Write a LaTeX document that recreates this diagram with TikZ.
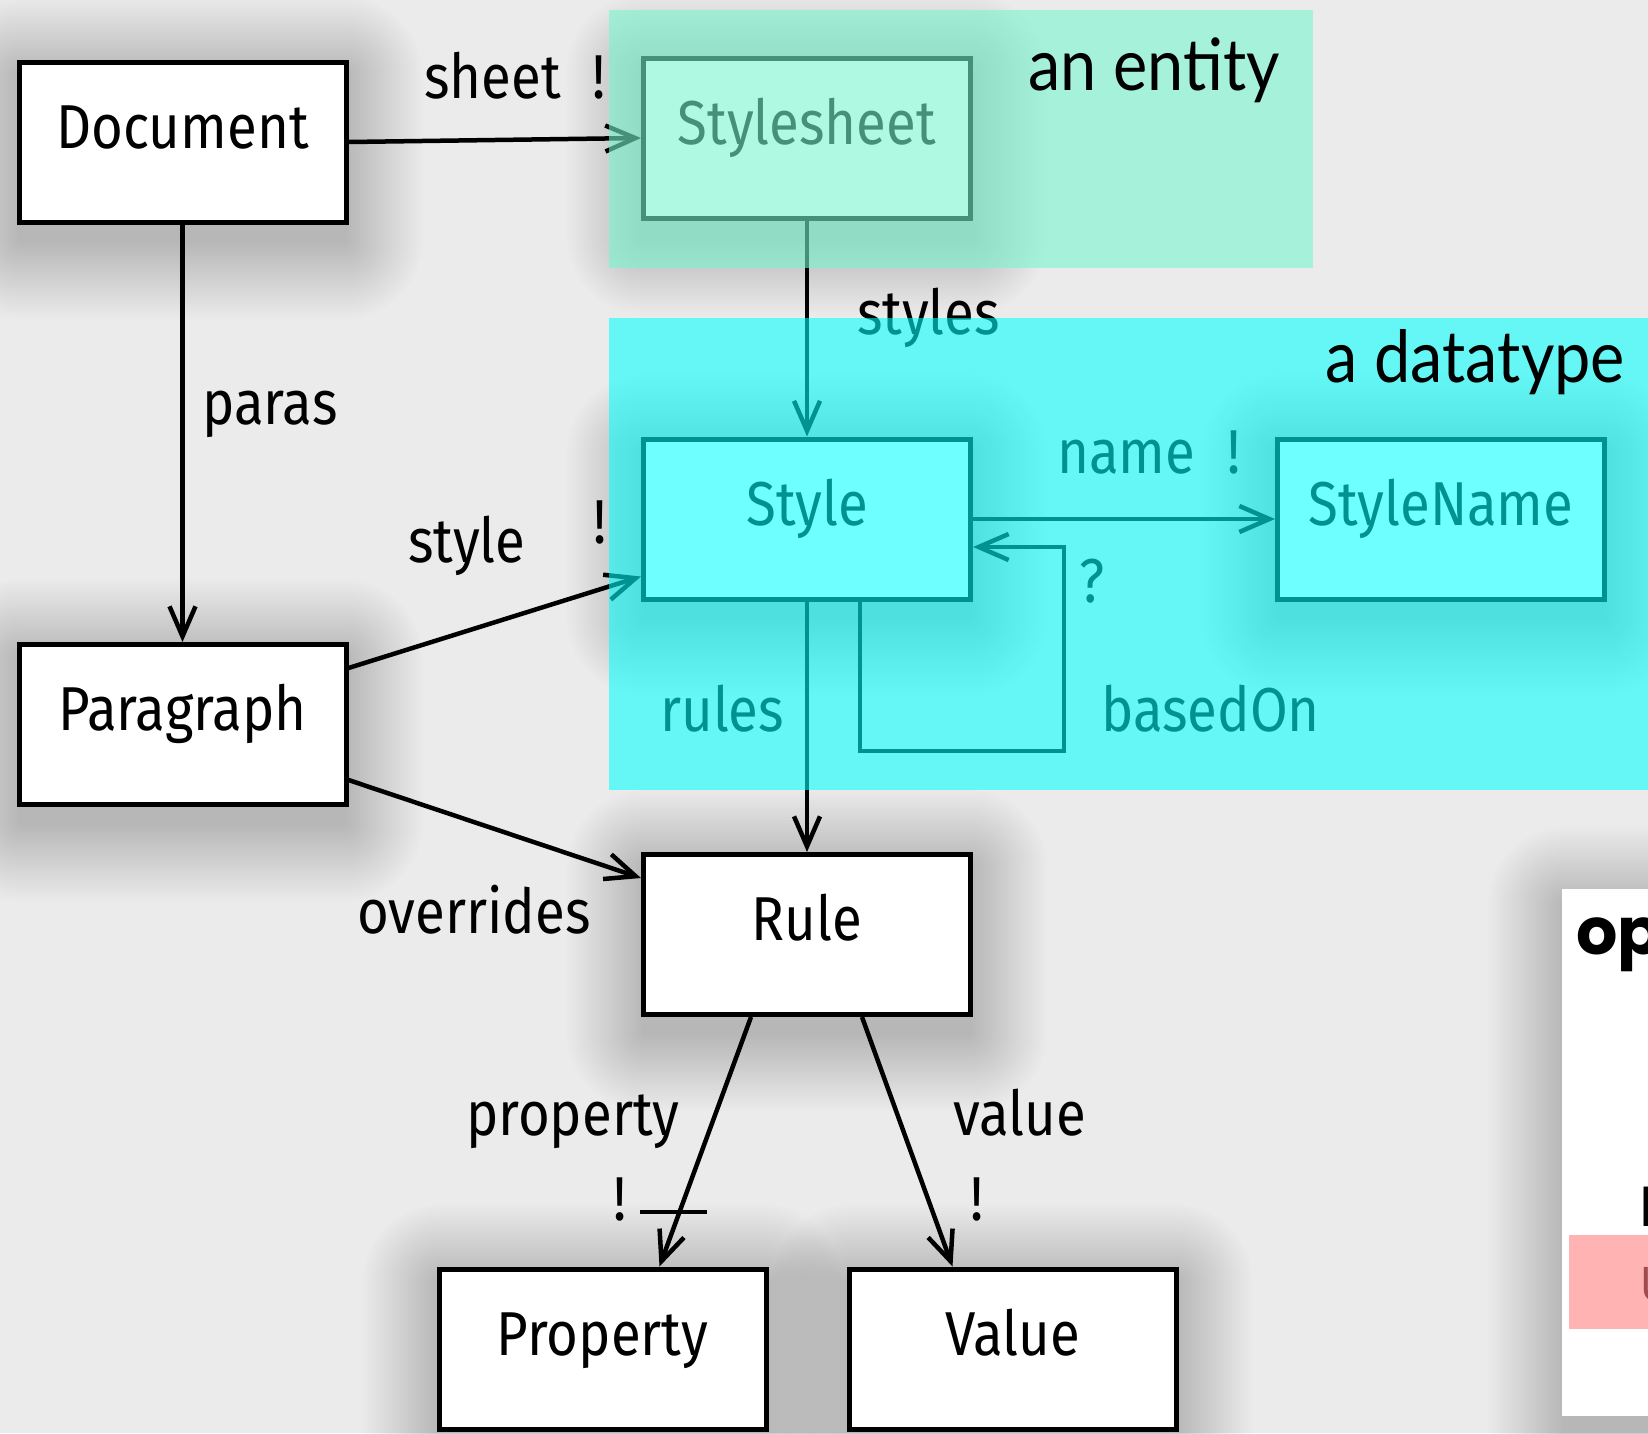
\documentclass[tikz,border=0pt]{standalone}
\usepackage{fontspec}
\setmainfont{Fira Sans}[FakeStretch=0.88]
\newfontfamily\regionfont{Lato}[FakeStretch=0.9]
\newfontfamily\panelfont{Poppins}
\usetikzlibrary{arrows.meta,calc}
\pgfdeclarelayer{bglayer}
\pgfdeclarelayer{shadowlayer}
\pgfsetlayers{bglayer,shadowlayer,main}
\definecolor{bg}{HTML}{EBEBEB}
\definecolor{pinkbar}{HTML}{FFB3B3}
\definecolor{darkred}{HTML}{A04C4C}
\definecolor{entitycol}{RGB}{119,246,207}
\definecolor{datacol}{RGB}{0,255,255}
\newcommand{\labfont}{\fontsize{62pt}{70pt}\selectfont}
\newcommand{\softshadow}[1]{%
  \begin{pgfonlayer}{shadowlayer}
  \foreach \i [evaluate=\i as \r using 3*\i] in {1,...,26}{
    \fill[black, fill opacity=0.006, rounded corners=\r pt]
      ($(#1.south west)+(-3*\i+4,3*\i+16)$) rectangle ($(#1.north east)+(3*\i-4,-3*\i+16)$);
  }
  \end{pgfonlayer}}
\tikzset{
  umlbox/.style={draw=black, line width=5pt, fill=white, minimum width=327pt, minimum height=160pt,
    inner sep=0pt, text height=40pt, text depth=28pt, font=\labfont},
  conn/.style={draw=black, line width=4.5pt, -{Straight Barb[length=30pt,width=26pt]}},
  plainline/.style={draw=black, line width=4.5pt},
  lbl/.style={font=\labfont, inner sep=0pt},
  region/.style={fill opacity=#1, draw=none},
}
\begin{document}
\begin{tikzpicture}[x=1pt,y=-1pt]
\useasboundingbox (0,0) rectangle (1648,1433);
\begin{pgfonlayer}{bglayer}
\fill[bg] (0,0) rectangle (1648,1433);
\end{pgfonlayer}

% right-hand panel (cut off)
\node[fill=white, inner sep=0pt, minimum width=138pt, minimum height=527pt] (panel) at (1631,1152.5) {};
\softshadow{panel}
\coordinate (pinkA) at (1569,1235);
\coordinate (pinkB) at (1700,1329);
\fill[pinkbar] (pinkA) rectangle (pinkB);
\node[anchor=base west, inner sep=0pt, font=\panelfont\bfseries\fontsize{65pt}{72pt}\selectfont] (ophead) at (1576,954) {op};
\node[anchor=base west, inner sep=0pt, font=\panelfont\fontsize{72pt}{80pt}\selectfont] (panelln) at (1638,1226) {n};
\node[anchor=base west, inner sep=0pt, text=darkred, font=\fontsize{48pt}{56pt}\selectfont] (panelu) at (1640,1300) {U};

% boxes
\node[umlbox] (doc)   at (182.5,142)  {Document};
\node[umlbox] (ss)    at (807,138)    {Stylesheet};
\node[umlbox] (style) at (807,519)    {Style};
\node[umlbox] (sn)    at (1441,519)   {StyleName};
\node[umlbox] (para)  at (182.5,724.5){Paragraph};
\node[umlbox] (rule)  at (807,934.5)  {Rule};
\node[umlbox] (prop)  at (602.5,1349) {Property};
\node[umlbox] (val)   at (1012.5,1349){Value};
\foreach \b in {doc,ss,style,sn,para,rule,prop,val}{\softshadow{\b}}

% connectors
\draw[conn] (doc.east) -- (ss.west);
\draw[conn] (doc.south) -- (para.north);
\draw[conn] (ss.south) -- (style.north);
\draw[conn] ($(para.north east)+(0,26)$) -- ($(style.south west)+(0,-25)$);
\draw[conn] ($(para.south east)+(0,-27)$) -- ($(rule.north west)+(0,26)$);
\draw[conn] (style.east) -- (sn.west);
\coordinate (loopc) at (1064,751);
\draw[conn] ($(style.south west)+(219,0)$) |- (loopc) |- ($(style.east)+(0,28)$);
\draw[conn] (style.south) -- (rule.north);
\draw[conn] ($(rule.south west)+(110,0)$) -- ($(prop.north west)+(223,0)$);
\draw[conn] ($(rule.south west)+(221,0)$) -- ($(val.north west)+(106,0)$);
\coordinate (tk1) at (640,1212);
\coordinate (tk2) at (707,1212);
\draw[plainline] (tk1) -- (tk2);

% labels
\node[lbl, anchor=base west] (lsheet) at (424,98) {sheet};
\node[lbl, anchor=base] (lsheetx) at (599,98) {!};
\node[lbl, anchor=base west] (lparas) at (202,424) {paras};
\node[lbl, anchor=base west] (lstyles) at (857,334) {styles};
\node[lbl, anchor=base west] (lstyle) at (408,562) {style};
\node[lbl, anchor=base] (lstylex) at (600,543) {!};
\node[lbl, anchor=base west] (loverrides) at (357,933) {overrides};
\node[lbl, anchor=base west] (lname) at (1057,473) {name};
\node[lbl, anchor=base] (lnamex) at (1234,473) {!};
\node[lbl, anchor=base] (lq) at (1092,602) {?};
\node[lbl, anchor=base west] (lrules) at (660,731) {rules};
\node[lbl, anchor=base west] (lbased) at (1101,731) {basedOn};
\node[lbl, anchor=base west] (lprop) at (466,1135) {property};
\node[lbl, anchor=base] (lpropx) at (620,1220) {!};
\node[lbl, anchor=base west] (lvalue) at (953,1135) {value};
\node[lbl, anchor=base] (lvaluex) at (977,1220) {!};

% translucent regions
\fill[region=0.59, entitycol] (609,10) rectangle (1313,268);
\fill[region=0.57, datacol] (609,318) rectangle (1700,790);
\node[anchor=base east, inner sep=0pt, font=\regionfont\fontsize{72pt}{80pt}\selectfont] (entity) at (1280,90) {an entity};
\node[anchor=base east, inner sep=0pt, font=\regionfont\fontsize{72pt}{80pt}\selectfont] (datatype) at (1625,382) {a datatype};
\end{tikzpicture}
\end{document}
